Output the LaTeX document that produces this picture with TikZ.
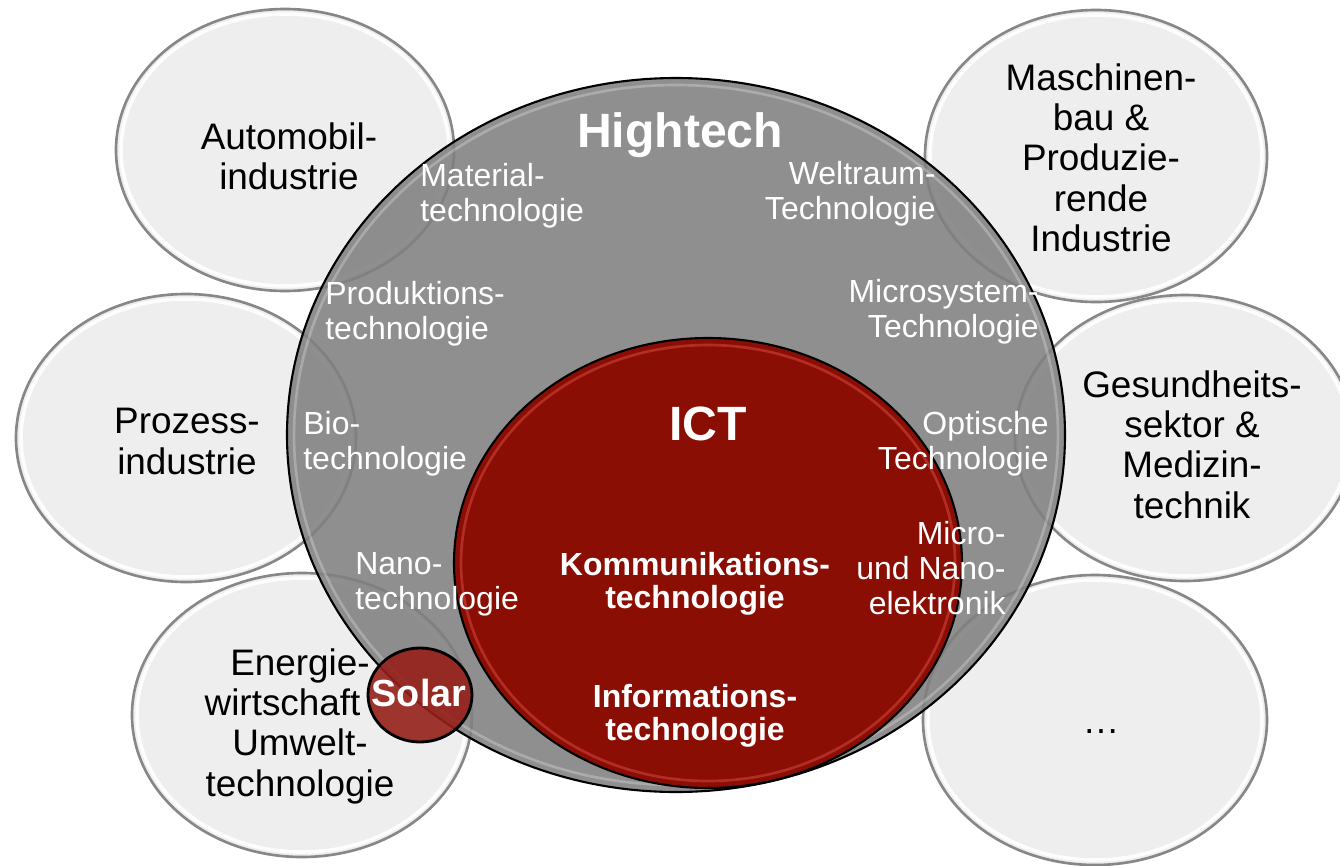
\documentclass[tikz,border=0pt]{standalone}
\usepackage{fontspec}
\setmainfont{Liberation Sans}
\usetikzlibrary{positioning}

\definecolor{ictred}{RGB}{139,14,4}
\definecolor{solarred}{RGB}{150,32,26}
\definecolor{sectorfill}{RGB}{238,238,238}
\definecolor{rimgray}{RGB}{135,135,135}
\definecolor{hitechgray}{RGB}{128,128,128}

\begin{document}
\begin{tikzpicture}[x=0.02cm,y=-0.02cm,
  sector/.style={draw=rimgray, line width=1.5pt, fill=sectorfill},
  gloss/.style={draw=white, line width=2pt, opacity=0.9},
  sectortxt/.style={align=center, inner sep=0pt, anchor=north, font=\fontsize{21}{23}\selectfont},
  techtxt/.style={text=white, inner sep=0pt, font=\fontsize{18.2}{19.8}\selectfont},
  ictbold/.style={text=white, align=center, inner sep=0pt, anchor=north, font=\bfseries\fontsize{18.2}{18.8}\selectfont},
  headtxt/.style={text=white, inner sep=0pt, anchor=north, font=\bfseries\fontsize{27.4}{30}\selectfont}]
\useasboundingbox (0,0) rectangle (1340,866);
% outer sectors
\foreach \cx/\cy/\rx/\ry in {285/150/169/141, 1096/156/171/146, 186/438/170/144,
    1185/438/170/143, 302/715/170/142, 1095/720/172/145}{
  \draw[sector] (\cx,\cy) ellipse [x radius=\rx, y radius=\ry];
  \draw[gloss] (\cx,\cy) ellipse [x radius=\rx-5, y radius=\ry-5];
}
% Hightech and ICT
\draw[line width=1.2pt, fill=hitechgray, fill opacity=0.88] (676,435) ellipse [x radius=389, y radius=357];
\draw[white, opacity=0.25, line width=1.5pt] (676,435) ellipse [x radius=382, y radius=350];
\draw[line width=1.2pt, fill=ictred] (708,563) ellipse [x radius=254, y radius=225];
\draw[red!60!white, opacity=0.35, line width=1.5pt] (708,563) ellipse [x radius=247, y radius=218];
\draw[line width=1.6pt, fill=solarred, fill opacity=0.9] (420,695) ellipse [x radius=52, y radius=47];

\node[sectortxt] (energie) at (300,648) {Energie-\\wirtschaft\phantom{ \&}\\Umwelt-\\technologie};
\node[sectortxt] (auto) at (289,122) {Automobil-\\industrie};
\node[sectortxt] (masch) at (1101,63) {Maschinen-\\bau \&\\Produzie-\\rende\\Industrie};
\node[sectortxt] (proz) at (187,408) {Prozess-\\industrie};
\node[sectortxt] (gesund) at (1192,370) {Gesundheits-\\sektor \&\\Medizin-\\technik};
\node[sectortxt, anchor=base] (more) at (1101,733) {\ldots};

\node[headtxt] (hitech) at (680,112) {Hightech};
\node[headtxt] (ict) at (708,407) {ICT};

\node[techtxt, align=left, anchor=north west] (mat) at (420,163) {Material-\\technologie};
\node[techtxt, align=left, anchor=north west] (prod) at (325,281) {Produktions-\\technologie};
\node[techtxt, align=left, anchor=north west] (bio) at (303,411) {Bio-\\technologie};
\node[techtxt, align=left, anchor=north west] (nano) at (355,552) {Nano-\\technologie};
\node[techtxt, align=right, anchor=north east] (welt) at (936,161) {Weltraum-\\Technologie};
\node[techtxt, align=right, anchor=north east] (msys) at (1039,279) {Microsystem-\\Technologie};
\node[techtxt, align=right, anchor=north east] (opt) at (1049,411) {Optische\\Technologie};
\node[techtxt, align=right, anchor=north east] (mne) at (1006,521) {Micro-\\und Nano-\\elektronik};

\node[ictbold] (komm) at (695,552) {Kommunikations-\\technologie};
\node[ictbold] (info) at (695,684) {Informations-\\technologie};
\node[ictbold, font=\bfseries\fontsize{21.5}{23}\selectfont] (solar) at (419,679) {Solar};
\end{tikzpicture}
\end{document}
